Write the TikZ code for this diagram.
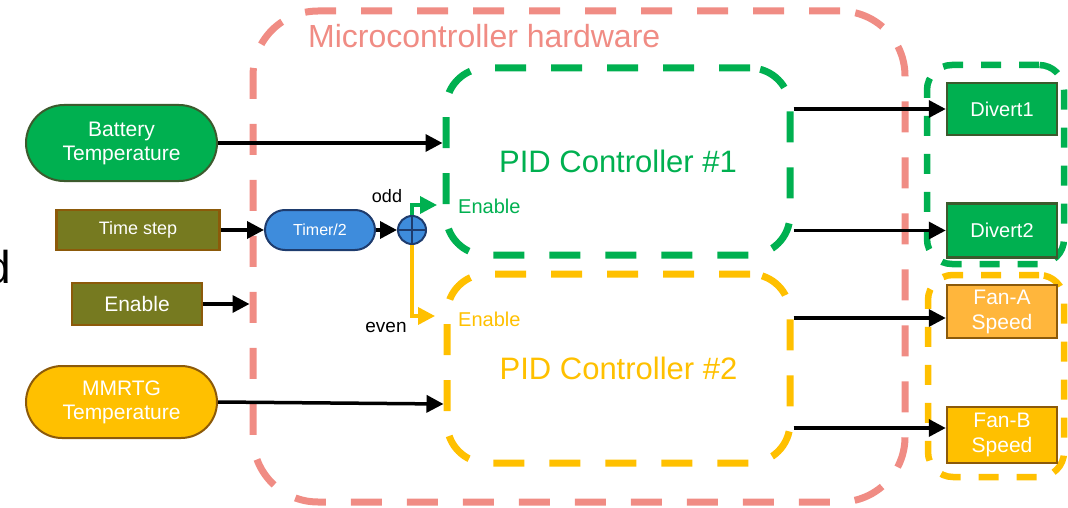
\documentclass[tikz,border=0pt]{standalone}
\usepackage{fontspec}
\setmainfont{Liberation Sans}
\usetikzlibrary{arrows.meta,shapes.misc}
\definecolor{pinkc}{RGB}{240,140,132}
\definecolor{grn}{RGB}{0,176,80}
\definecolor{ylw}{RGB}{255,192,0}
\definecolor{orng}{RGB}{255,182,60}
\definecolor{olivef}{RGB}{118,122,32}
\definecolor{brownb}{RGB}{140,90,10}
\definecolor{dgreen}{RGB}{60,90,45}
\definecolor{bluef}{RGB}{62,140,220}
\definecolor{navyb}{RGB}{30,60,110}
\begin{document}
\begin{tikzpicture}[x=1pt,y=-1pt,
  biggrp/.style={draw,line width=7pt,dash pattern=on 31pt off 25pt,rectangle,inner sep=0pt},
  smallgrp/.style={draw,line width=6.5pt,dash pattern=on 20pt off 18pt,rectangle,inner sep=0pt,rounded corners=25pt},
  pill/.style={rounded rectangle,draw,line width=2pt,minimum width=191pt,text=white,align=center,
    font=\fontsize{21}{24}\selectfont,inner sep=0pt},
  sbox/.style={rectangle,draw,line width=2.5pt,text=white,align=center,inner sep=0pt},
  arr/.style={line width=3.5pt,-{Triangle[length=17pt,width=17pt]}},
  lbl/.style={inner sep=0pt,anchor=base west}]
\useasboundingbox (0,0) rectangle (1068,508);
\clip (0,0) rectangle (1068,508);
% cut-off letter at left edge
\node[inner sep=0pt,anchor=base west,font=\fontsize{46}{46}\selectfont] (dl) at (-14.5,283) {d};
% groups
\node[biggrp,pinkc,rounded corners=65pt,minimum width=652pt,minimum height=491pt] (mcu) at (579,256.5) {};
\node[lbl,text=pinkc,font=\fontsize{32}{36}\selectfont] (title) at (308,48) {Microcontroller hardware};
\node[biggrp,grn,rounded corners=40pt,minimum width=344pt,minimum height=187pt,
  text=grn,font=\fontsize{31}{36}\selectfont] (pid1) at (618,161.5) {PID Controller \#1};
\node[biggrp,ylw,rounded corners=40pt,minimum width=343pt,minimum height=189pt,
  text=ylw,font=\fontsize{31}{36}\selectfont] (pid2) at (618.5,368.5) {PID Controller \#2};
\node[smallgrp,grn,minimum width=137pt,minimum height=199pt] (divgrp) at (995.5,164.5) {};
\node[smallgrp,ylw,minimum width=136pt,minimum height=202pt] (fangrp) at (996,376) {};
% inputs
\node[pill,fill=grn,draw=dgreen,minimum height=76pt] (bat) at (121.5,143) {Battery\\Temperature};
\node[pill,fill=ylw,draw=brownb,minimum height=72pt] (mm) at (121.5,402) {MMRTG\\Temperature};
\node[sbox,fill=olivef,draw=brownb,minimum width=163pt,minimum height=40pt,font=\fontsize{18}{20}\selectfont] (ts) at (138,230) {Time step};
\node[sbox,fill=olivef,draw=brownb,minimum width=130pt,minimum height=42pt,font=\fontsize{21}{24}\selectfont] (en) at (137,304) {Enable};
\node[rounded rectangle,draw=navyb,fill=bluef,line width=2pt,minimum width=110pt,minimum height=40pt,inner sep=0pt,
  text=white,font=\fontsize{16}{18}\selectfont] (timer) at (320,230) {Timer/2};
\node[circle,draw=navyb,fill=bluef,line width=2pt,minimum size=28pt,inner sep=0pt] (xor) at (412,230) {};
\draw[navyb,line width=2pt] (xor.north) -- (xor.south) (xor.west) -- (xor.east);
% outputs
\node[sbox,fill=grn,draw=dgreen,minimum width=110pt,minimum height=52pt,font=\fontsize{20}{24}\selectfont] (div1) at (1002,109) {Divert1};
\node[sbox,fill=grn,draw=dgreen,minimum width=110pt,minimum height=54pt,font=\fontsize{20}{24}\selectfont] (div2) at (1002,230.5) {Divert2};
\node[sbox,fill=orng,draw=brownb,minimum width=110pt,minimum height=53pt,font=\fontsize{21}{25}\selectfont] (fana) at (1002,311.5) {Fan-A\\Speed};
\node[sbox,fill=ylw,draw=brownb,minimum width=110pt,minimum height=56pt,font=\fontsize{21}{25}\selectfont] (fanb) at (1002,435) {Fan-B\\Speed};
% labels
\node[lbl,text=grn,font=\fontsize{20}{24}\selectfont] (en1) at (458,213) {Enable};
\node[lbl,text=ylw,font=\fontsize{20}{24}\selectfont] (en2) at (458,326) {Enable};
\node[inner sep=0pt,anchor=base,font=\fontsize{18}{20}\selectfont] (odd) at (387,202) {odd};
\node[inner sep=0pt,anchor=base,font=\fontsize{19}{20}\selectfont] (even) at (386,332) {even};
\coordinate (g1) at (437,205);
\coordinate (y1) at (435,316);
% connectors
\draw[arr] (bat.east) -- (bat.east -| pid1.west);
\draw[arr] (ts.east) -- (timer.west);
\draw[arr] (en.east) -- (en.east -| mcu.west);
\draw[arr] (mm.east) -- ([yshift=-2pt]mm.east -| pid2.west);
\draw[arr] (timer.east) -- (xor.west);
\draw[arr,grn] (xor.north) |- (g1);
\draw[arr,ylw] (xor.south) |- (y1);
\draw[arr] (div1.west -| pid1.east) -- (div1.west);
\draw[arr] (div2.west -| pid1.east) -- (div2.west);
\draw[arr] ([yshift=-6.5pt]fana.west -| pid2.east) -- ([yshift=-6.5pt]fana.west);
\draw[arr] ([yshift=7pt]fanb.west -| pid2.east) -- ([yshift=7pt]fanb.west);
\end{tikzpicture}
\end{document}
